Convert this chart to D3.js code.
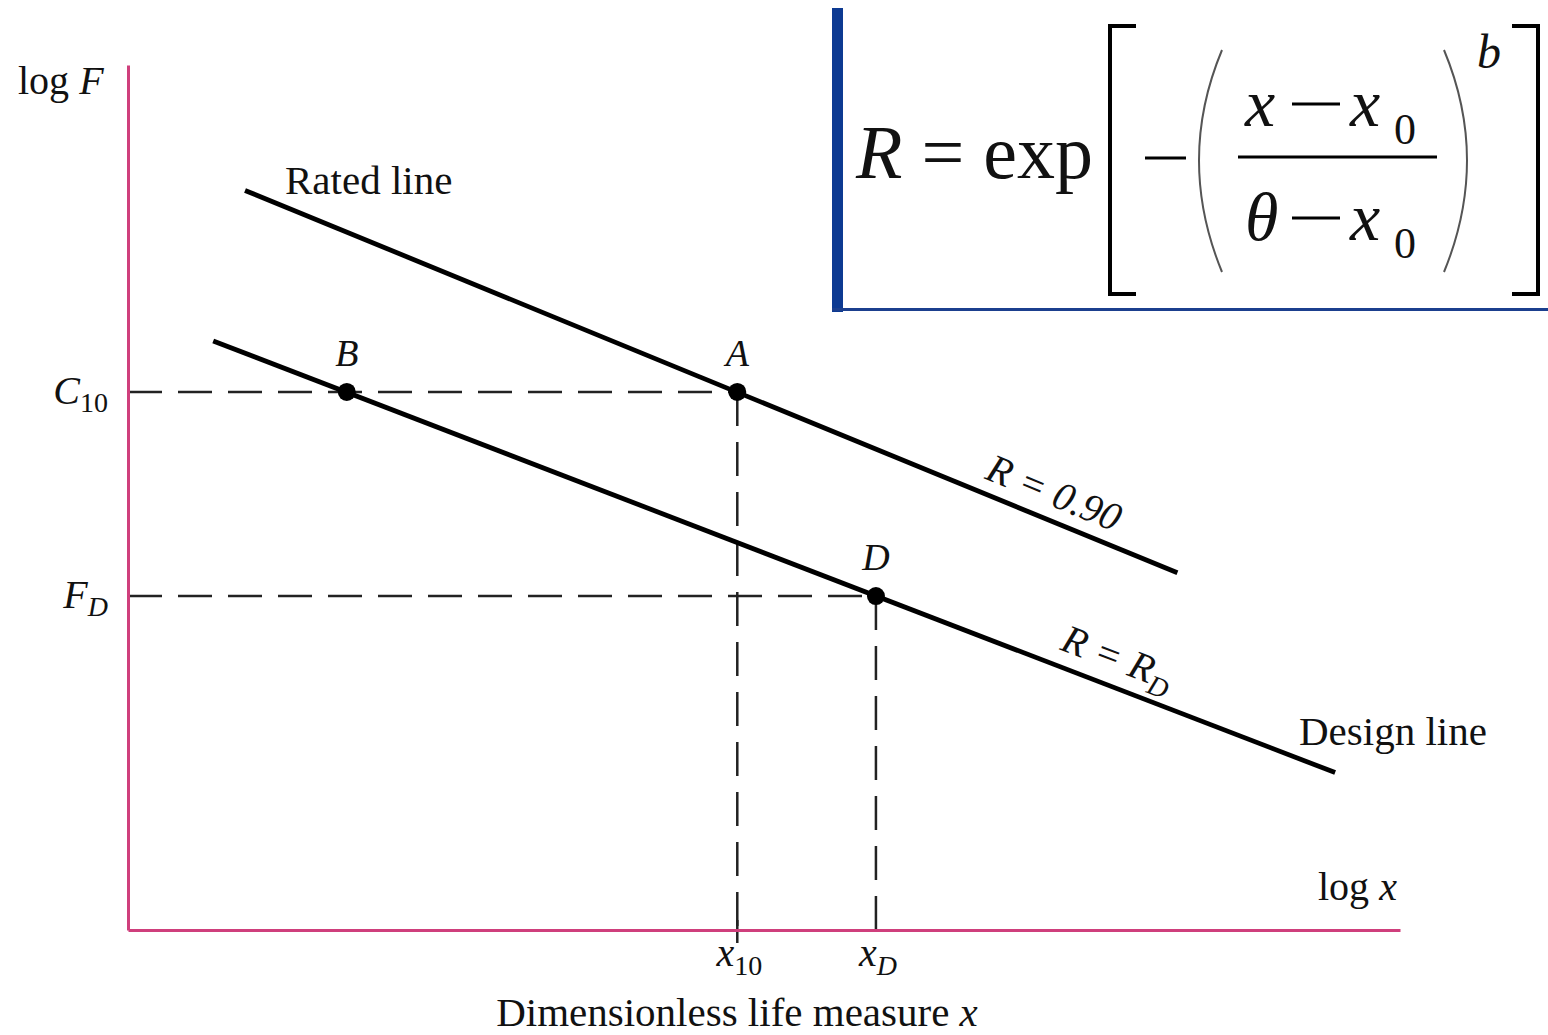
<!DOCTYPE html>
<html>
<head>
<meta charset="utf-8">
<script src="https://cdn.jsdelivr.net/npm/d3@7/dist/d3.min.js"></script>
<style>
  html, body { margin: 0; padding: 0; background: #fff; }
  svg { display: block; }
  text { font-family: "Liberation Serif", "Times New Roman", serif; fill: #111; }
  .it { font-style: italic; }
</style>
</head>
<body>
<svg id="chart" width="1548" height="1035"></svg>
<script>
// Load-life lines on log-log axes (arbitrary log units)
const ratedLine  = [[0.92, 8.55], [8.25, 4.13]];   // R = 0.90
const designLine = [[0.67, 6.81], [9.49, 1.82]];   // R = R_D
const pointNames = ["B", "A", "D"];
const pointX     = [1.72, 4.79, 5.88];
const pointY     = [6.22, 6.22, 3.86];
const yTickNames = ["C", "F"];
const yTickSubs  = ["10", "D"];
const yTickVals  = [6.22, 3.86];
const xTickSubs  = ["10", "D"];
const xTickVals  = [4.79, 5.88];

const svg = d3.select("#chart");
const W = 1548, H = 1035;
svg.append("rect").attr("width", W).attr("height", H).attr("fill", "#fff");

const x = d3.scaleLinear().domain([0, 10]).range([128, 1400]);
const y = d3.scaleLinear().domain([0, 10]).range([930, 65]);

const axisColor = "#cf3f7c";

// Dashed guide lines
const dash = "34,16";
const guides = svg.append("g").attr("stroke", "#222").attr("stroke-width", 2.5)
  .attr("stroke-dasharray", dash).attr("fill", "none");
guides.append("line").attr("x1", x(0)).attr("x2", x(pointX[1]))
  .attr("y1", y(yTickVals[0])).attr("y2", y(yTickVals[0]));
guides.append("line").attr("x1", x(0)).attr("x2", x(pointX[2]))
  .attr("y1", y(yTickVals[1])).attr("y2", y(yTickVals[1]));
guides.append("line").attr("x1", x(xTickVals[0])).attr("x2", x(xTickVals[0]))
  .attr("y1", y(pointY[1])).attr("y2", y(0));
guides.append("line").attr("x1", x(xTickVals[1])).attr("x2", x(xTickVals[1]))
  .attr("y1", y(pointY[2])).attr("y2", y(0));
// short tick below the axis at x10
svg.append("line").attr("x1", x(xTickVals[0])).attr("x2", x(xTickVals[0]))
  .attr("y1", y(0) - 10).attr("y2", y(0) + 13).attr("stroke", "#222").attr("stroke-width", 2.5);

// Axes: plain domain lines, no tick marks
const gx = svg.append("g").attr("transform", `translate(0,${y(0)})`)
  .call(d3.axisBottom(x).tickValues([]).tickSizeOuter(0));
const gy = svg.append("g").attr("transform", `translate(${x(0)},0)`)
  .call(d3.axisLeft(y).tickValues([]).tickSizeOuter(0));
[gx, gy].forEach(g => g.select(".domain").attr("stroke", axisColor).attr("stroke-width", 3));

// Rated and design lines
const line = d3.line().x(d => x(d[0])).y(d => y(d[1]));
[ratedLine, designLine].forEach(l => {
  svg.append("path").attr("d", line(l)).attr("fill", "none")
    .attr("stroke", "#000").attr("stroke-width", 4.8).attr("stroke-linecap", "butt");
});

// Points
svg.selectAll("circle.pt").data(pointX).join("circle").attr("class", "pt")
  .attr("cx", d => x(d)).attr("cy", (d, i) => y(pointY[i])).attr("r", 9).attr("fill", "#000");

// Point names
svg.selectAll("text.pn").data(pointNames).join("text").attr("class", "pn it")
  .attr("x", (d, i) => x(pointX[i])).attr("y", (d, i) => y(pointY[i]) - 26)
  .attr("text-anchor", "middle").attr("font-size", 38).text(d => d);

// Y tick labels
yTickVals.forEach((v, i) => {
  const t = svg.append("text").attr("x", x(0) - 20).attr("y", y(v) + 12)
    .attr("text-anchor", "end").attr("font-size", 40);
  t.append("tspan").attr("class", "it").text(yTickNames[i]);
  t.append("tspan").attr("class", i === 1 ? "it" : null).attr("font-size", 28).attr("dy", 8).text(yTickSubs[i]);
});

// X tick labels
xTickVals.forEach((v, i) => {
  const t = svg.append("text").attr("x", x(v) + 2).attr("y", y(0) + 36)
    .attr("text-anchor", "middle").attr("font-size", 40);
  t.append("tspan").attr("class", "it").text("x");
  t.append("tspan").attr("class", i === 1 ? "it" : null).attr("font-size", 28).attr("dy", 9).text(xTickSubs[i]);
});

// Axis titles
const lf = svg.append("text").attr("x", 18).attr("y", 94).attr("font-size", 40);
lf.append("tspan").text("log ");
lf.append("tspan").attr("class", "it").text("F");

const lx = svg.append("text").attr("x", 1318).attr("y", 900).attr("font-size", 40);
lx.append("tspan").text("log ");
lx.append("tspan").attr("class", "it").text("x");

const xt = svg.append("text").attr("x", 737).attr("y", 1026).attr("text-anchor", "middle").attr("font-size", 41);
xt.append("tspan").text("Dimensionless life measure ");
xt.append("tspan").attr("class", "it").text("x");

// Line names
svg.append("text").attr("x", 285).attr("y", 194).attr("font-size", 41).text("Rated line");
svg.append("text").attr("x", 1299).attr("y", 745).attr("font-size", 41).text("Design line");

// Slanted reliability labels placed along each line
function slantLabel(l, atX, offset, build) {
  const [p0, p1] = l;
  const dx = x(p1[0]) - x(p0[0]), dy = y(p1[1]) - y(p0[1]);
  const ang = Math.atan2(dy, dx) * 180 / Math.PI;
  const t = (atX - p0[0]) / (p1[0] - p0[0]);
  const px = x(p0[0]) + t * dx, py = y(p0[1]) + t * dy;
  const g = svg.append("g").attr("transform", `translate(${px},${py}) rotate(${ang}) translate(0,${-offset})`);
  const txt = g.append("text").attr("text-anchor", "middle").attr("font-size", 40);
  build(txt);
}
slantLabel(ratedLine, 7.2, 14, t => {
  t.append("tspan").attr("class", "it").text("R = 0.90");
});
slantLabel(designLine, 7.7, 16, t => {
  t.append("tspan").attr("class", "it").text("R = R");
  t.append("tspan").attr("class", "it").attr("font-size", 28).attr("dy", 9).text("D");
});

// Reliability formula panel
const fp = svg.append("g");
fp.append("rect").attr("x", 836).attr("y", 8).attr("width", W - 836).attr("height", 302).attr("fill", "#fff");
fp.append("rect").attr("x", 832).attr("y", 8).attr("width", 11).attr("height", 304).attr("fill", "#0d3a92");
fp.append("rect").attr("x", 832).attr("y", 308).attr("width", W - 832).attr("height", 3).attr("fill", "#1b3f8e");

const fs = 76;
const r1 = fp.append("text").attr("x", 856).attr("y", 178).attr("font-size", fs);
r1.append("tspan").attr("class", "it").text("R");
r1.append("tspan").text(" = exp");

// Square brackets
fp.append("path").attr("d", "M1136,26 H1110 V294 H1136").attr("fill", "none")
  .attr("stroke", "#000").attr("stroke-width", 4);
fp.append("path").attr("d", "M1512,26 H1538 V294 H1512").attr("fill", "none")
  .attr("stroke", "#000").attr("stroke-width", 4);

// Leading minus
fp.append("line").attr("x1", 1145).attr("x2", 1186).attr("y1", 158).attr("y2", 158)
  .attr("stroke", "#000").attr("stroke-width", 3);

// Tall parentheses
fp.append("path").attr("d", "M1222,50 Q1176,160 1222,272").attr("fill", "none")
  .attr("stroke", "#555").attr("stroke-width", 2);
fp.append("path").attr("d", "M1444,50 Q1490,160 1444,272").attr("fill", "none")
  .attr("stroke", "#555").attr("stroke-width", 2);

// Fraction
fp.append("line").attr("x1", 1238).attr("x2", 1437).attr("y1", 157).attr("y2", 157)
  .attr("stroke", "#000").attr("stroke-width", 3);
function fracRow(yBase, first) {
  fp.append("text").attr("class", "it").attr("x", 1245).attr("y", yBase).attr("font-size", 68).text(first);
  fp.append("line").attr("x1", 1292).attr("x2", 1340).attr("y1", yBase - 22).attr("y2", yBase - 22)
    .attr("stroke", "#000").attr("stroke-width", 3);
  fp.append("text").attr("class", "it").attr("x", 1350).attr("y", yBase).attr("font-size", 68).text("x");
  fp.append("text").attr("x", 1394).attr("y", yBase + 18).attr("font-size", 44).text("0");
}
fracRow(126, "x");
fracRow(240, "θ");

// Exponent
fp.append("text").attr("class", "it").attr("x", 1477).attr("y", 68).attr("font-size", 48).text("b");
</script>
</body>
</html>
